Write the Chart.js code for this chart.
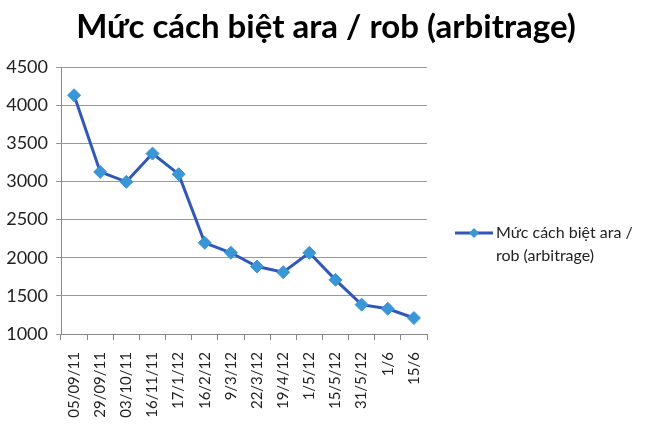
<!DOCTYPE html>
<html>
<head>
<meta charset="utf-8">
<script src="https://cdn.jsdelivr.net/npm/chart.js@4.4.1/dist/chart.umd.min.js"></script>
<style>
  html, body { margin: 0; padding: 0; background: #fff; }
  #wrap { width: 650px; height: 430px; }
</style>
</head>
<body>
<div id="wrap"><canvas id="myChart" width="650" height="430"></canvas></div>
<script>
const chartTitle = 'Mức cách biệt ara / rob (arbitrage)';
const seriesName = 'Mức cách biệt ara / rob (arbitrage)';
const legendLines = ['Mức cách biệt ara /', 'rob (arbitrage)'];
const dates = ['05/09/11', '29/09/11', '03/10/11', '16/11/11', '17/1/12', '16/2/12', '9/3/12',
               '22/3/12', '19/4/12', '1/5/12', '15/5/12', '31/5/12', '1/6', '15/6'];
const spread = [4130, 3125, 2995, 3365, 3095, 2195, 2065, 1885, 1810, 2065, 1710, 1385, 1330, 1210];
const yTicks = [1000, 1500, 2000, 2500, 3000, 3500, 4000, 4500];

const lineColor = '#3058B8';
const markerColor = '#3A96D4';
const fontName = 'Lato, "Liberation Sans", sans-serif';

// title and legend drawn by hand: title centred on the whole page,
// legend text wrapping onto two lines like the original
const decorations = {
    id: 'decorations',
    afterDraw(chart) {
        const ctx = chart.ctx;
        ctx.save();
        ctx.fillStyle = '#000';
        ctx.font = 'bold 33px ' + fontName;
        ctx.textAlign = 'center';
        ctx.textBaseline = 'alphabetic';
        ctx.fillText(chartTitle, 326, 38);

        const x0 = 455, y0 = 233;
        ctx.strokeStyle = lineColor;
        ctx.lineWidth = 3;
        ctx.beginPath();
        ctx.moveTo(x0, y0);
        ctx.lineTo(x0 + 38, y0);
        ctx.stroke();
        ctx.fillStyle = markerColor;
        ctx.beginPath();
        ctx.moveTo(x0 + 19, y0 - 5);
        ctx.lineTo(x0 + 24, y0);
        ctx.lineTo(x0 + 19, y0 + 5);
        ctx.lineTo(x0 + 14, y0);
        ctx.closePath();
        ctx.fill();
        ctx.fillStyle = '#222';
        ctx.font = '16px ' + fontName;
        ctx.textAlign = 'left';
        ctx.textBaseline = 'middle';
        legendLines.forEach((t, i) => ctx.fillText(t, x0 + 41, y0 + i * 23));
        ctx.restore();
    }
};

const ctx = document.getElementById('myChart').getContext('2d');
const myChart = new Chart(ctx, {
    type: 'line',
    data: {
        labels: dates,
        datasets: [{
            label: seriesName,
            data: spread,
            borderColor: lineColor,
            borderWidth: 3,
            pointStyle: 'rectRot',
            pointRadius: 6.5,
            pointBackgroundColor: markerColor,
            pointBorderColor: markerColor,
            pointBorderWidth: 1,
            tension: 0
        }]
    },
    options: {
        responsive: false,
        animation: false,
        layout: { padding: { left: 0, right: 223, top: 67, bottom: 0 } },
        plugins: {
            legend: { display: false },
            tooltip: { enabled: false },
            title: { display: false }
        },
        scales: {
            x: {
                offset: true,
                grid: {
                    offset: true,
                    drawOnChartArea: false,
                    drawTicks: true,
                    tickLength: 6,
                    color: '#888'
                },
                border: { color: '#888' },
                ticks: {
                    autoSkip: false,
                    minRotation: 90,
                    maxRotation: 90,
                    padding: 12,
                    color: '#222',
                    font: { family: fontName, size: 15 }
                },
                afterFit(scale) { scale.height = 96; }
            },
            y: {
                min: 1000,
                max: 4500,
                afterBuildTicks(scale) { scale.ticks = yTicks.map(v => ({ value: v })); },
                grid: { color: '#999', tickLength: 5 },
                border: { color: '#888' },
                ticks: {
                    padding: 8,
                    color: '#222',
                    font: { family: fontName, size: 18 },
                    callback: v => String(v)
                },
                afterFit(scale) { scale.width = 61; }
            }
        }
    },
    plugins: [decorations]
});
</script>
</body>
</html>
